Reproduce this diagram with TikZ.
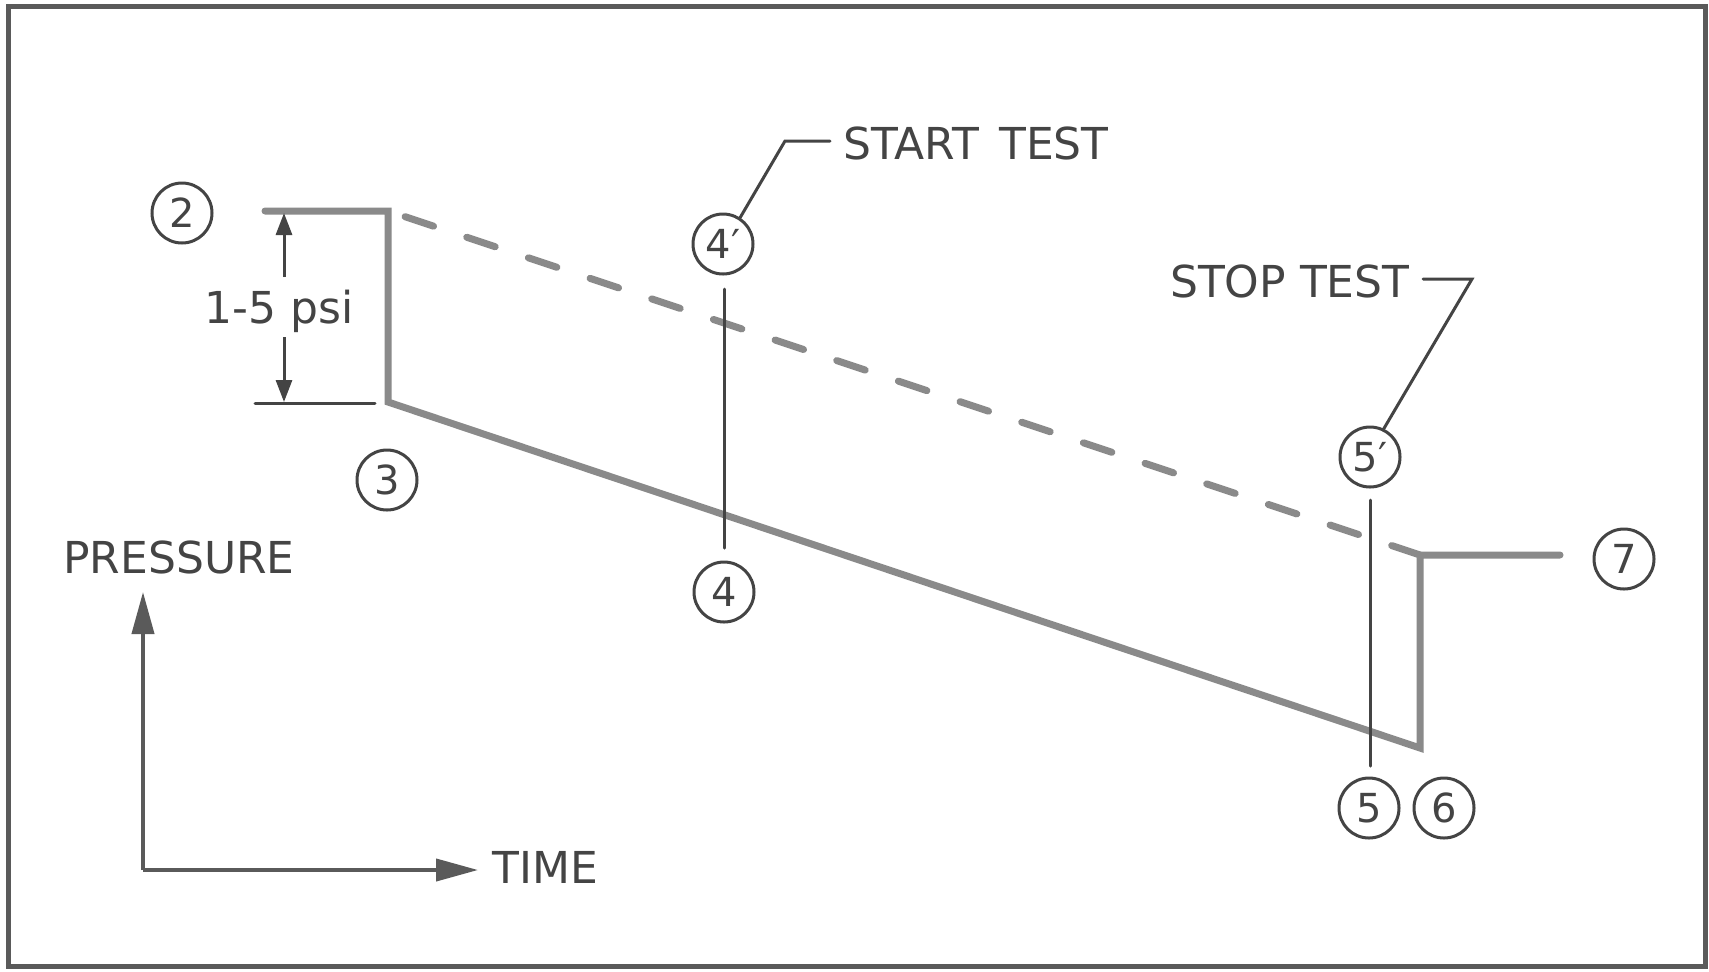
\documentclass[tikz,border=0pt]{standalone}
\usepackage{fontspec}
\setmainfont{DejaVu Sans}
\usetikzlibrary{arrows.meta}
\definecolor{ink}{HTML}{444444}
\definecolor{curve}{HTML}{8A8A8A}
\definecolor{frame}{HTML}{5A5A5A}
\tikzset{
  numcirc/.style={circle, draw=ink, line width=1.5pt, minimum size=30pt, inner sep=0pt, text=ink, font=\fontsize{20}{22}\selectfont},
  label/.style={inner sep=0pt, text=ink, font=\fontsize{22}{24}\selectfont},
  mainline/.style={draw=curve, line width=3.5pt, line cap=round, line join=miter},
  thinline/.style={draw=ink, line width=1.5pt, line cap=round},
  dashline/.style={draw=curve, line width=3.5pt, line cap=round, dash pattern=on 15pt off 17.5pt, dash phase=23.5pt},
  axisline/.style={draw=frame, line width=2pt},
  dimarrow/.style={-{Triangle[length=11pt,width=8pt]}, draw=ink, fill=ink, line width=1.5pt},
  axisarrow/.style={-{Triangle[length=21pt,width=11pt]}, draw=frame, line width=2pt}
}
\begin{document}
\begin{tikzpicture}[x=0.5pt,y=-0.5pt]
\useasboundingbox (0,0) rectangle (1709,971);
\fill[white] (0,0) rectangle (1709,971);
\draw[frame, line width=2.5pt] (8,6) rectangle (1705,966);

% circled numbers
\node[numcirc] (c2) at (182,213) {2};
\node[numcirc] (c3) at (387,480) {3};
\node[numcirc] (c4p) at (723,244) {4′};
\node[numcirc] (c4) at (724,592) {4};
\node[numcirc] (c5p) at (1370,457) {5′};
\node[numcirc] (c5) at (1369,808) {5};
\node[numcirc] (c6) at (1444,808) {6};
\node[numcirc] (c7) at (1624,559) {7};

% text labels
\node[label, anchor=base west] (start) at (843,159) {START\hspace{3pt} TEST};
\node[label, anchor=base east] (stop) at (1410,297) {STOP TEST};
\node[label, anchor=base] (psi) at (279,323) {1-5 psi};
\node[label, anchor=base west] (pres) at (63,573) {PRESSURE};
\node[label, anchor=base west] (time) at (492,883) {TIME};

% curve corners
\coordinate (p2l) at (265,211);
\coordinate (p2) at (388,211);
\coordinate (p3) at (388,402);
\coordinate (p6) at (1420,748);
\coordinate (p6t) at (1420,555);
\coordinate (p7) at (1560,555);

% pressure trace
\draw[mainline] (p2l) -- (p2) -- (p3) -- (p6) -- (p6t) -- (p7);
\draw[dashline] (p2) -- (p6t);

% dimension 1-5 psi
\coordinate (ref3a) at (255,403);
\coordinate (ref3b) at (375,403);
\draw[thinline] (ref3a) -- (ref3b);
\coordinate (dimtop) at (284,213);
\coordinate (dimbot) at (284,402);
\coordinate (dimA) at (284,277);
\coordinate (dimB) at (284,337);
\draw[dimarrow] (dimA) -- (dimtop);
\draw[dimarrow] (dimB) -- (dimbot);

% time markers
\coordinate (m4t) at (724,289);
\coordinate (m4b) at (724,548);
\draw[thinline] (m4t) -- (m4b);
\coordinate (m5t) at (1370,500);
\coordinate (m5b) at (1370,766);
\draw[thinline] (m5t) -- (m5b);

% leaders
\coordinate (sbend) at (785,141);
\coordinate (send) at (830,141);
\draw[thinline] (c4p.57) -- (sbend) -- (send);
\coordinate (tbend) at (1472,279);
\coordinate (tend) at (1423,279);
\draw[thinline] (c5p.64) -- (tbend) -- (tend);

% axes
\coordinate (org) at (143,870);
\coordinate (ytip) at (143,592);
\coordinate (xtip) at (478,870);
\draw[axisarrow] (org) -- (ytip);
\draw[axisarrow] (org) -- (xtip);
\end{tikzpicture}
\end{document}
